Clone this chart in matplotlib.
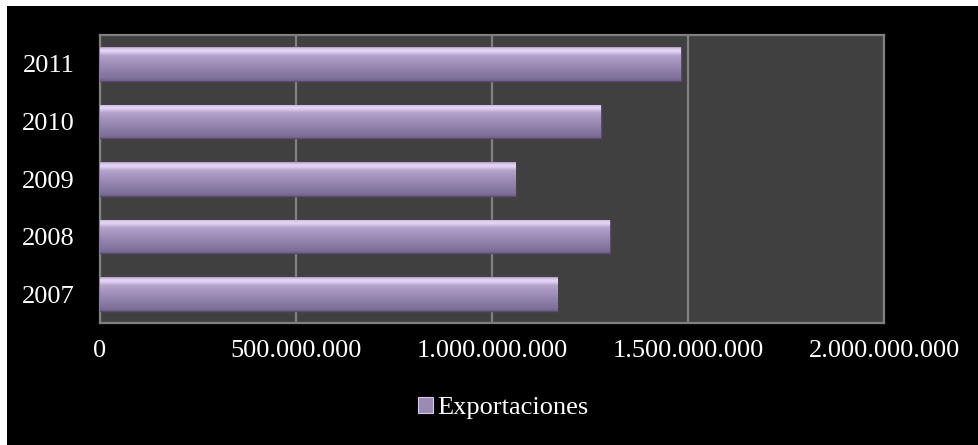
import matplotlib
matplotlib.use("Agg")
import matplotlib.pyplot as plt
import numpy as np
from matplotlib.colors import LinearSegmentedColormap
from matplotlib.patches import Rectangle, Patch
from matplotlib.ticker import FuncFormatter

years = ["2007", "2008", "2009", "2010", "2011"]
exportaciones = [1166000000, 1301000000, 1059000000, 1278000000, 1482000000]
series_name = "Exportaciones"
xticks = [0, 500000000, 1000000000, 1500000000, 2000000000]

plt.rcParams['font.family'] = ['Liberation Serif', 'DejaVu Serif']

W, H = 979, 445
fig = plt.figure(figsize=(W / 100, H / 100), dpi=100, facecolor='white')
fig.patches.append(Rectangle((7 / W, 0), 1 - 7 / W, 1 - 6 / H, transform=fig.transFigure,
                             facecolor='black', edgecolor='none', zorder=-5))

ax = fig.add_axes([100 / W, (H - 323) / H, (884 - 100) / W, (323 - 35) / H])
ax.set_zorder(2)
ax.set_facecolor('#404040')

cmap = LinearSegmentedColormap.from_list('bar', [
    (0.0, '#6e6088'), (0.08, '#7e7098'), (0.45, '#9a8ab4'),
    (0.75, '#b4a4cc'), (0.88, '#e6d6f6'), (0.95, '#d8c8ea'), (1.0, '#a898bc')])

h = 0.58
ypos = np.arange(len(years))
bars = ax.barh(ypos, exportaciones, height=h, color='#a090c0', edgecolor='#5a4c70',
               linewidth=1.0, zorder=3)
grad = np.linspace(0, 1, 256).reshape(-1, 1)
for b in bars:
    x0, y0 = b.get_x(), b.get_y()
    im = ax.imshow(grad, cmap=cmap, origin='lower', aspect='auto',
                   extent=(x0, x0 + b.get_width(), y0, y0 + b.get_height()), zorder=4)
    im.set_clip_path(b)

ax.set_xlim(0, 2000000000)
ax.set_ylim(-0.5, len(years) - 0.5)
ax.set_xticks(xticks)
ax.xaxis.set_major_formatter(FuncFormatter(lambda v, p: f"{int(v):,}".replace(",", ".")))
ax.set_yticks(ypos)
ax.set_yticklabels(years)
ax.tick_params(axis='both', colors='white', labelsize=19, length=0)
ax.tick_params(axis='x', pad=12)
ax.tick_params(axis='y', pad=18)
ax.grid(axis='x', color='#808080', linewidth=1.6, zorder=1)
ax.set_axisbelow(True)
for s in ax.spines.values():
    s.set_color('#808080')
    s.set_linewidth(1.6)

handle = Patch(facecolor='#9a8ab4', edgecolor='#d8c8ea', linewidth=0.8)
leg = fig.legend([handle], [series_name], loc='center', bbox_to_anchor=(0.514, 0.083),
                 frameon=False, fontsize=19, handlelength=0.55, handleheight=0.55,
                 handletextpad=0.15)
leg.set_zorder(3)
for t in leg.get_texts():
    t.set_color('white')

fig.savefig('out.png', dpi=100, facecolor='white')
